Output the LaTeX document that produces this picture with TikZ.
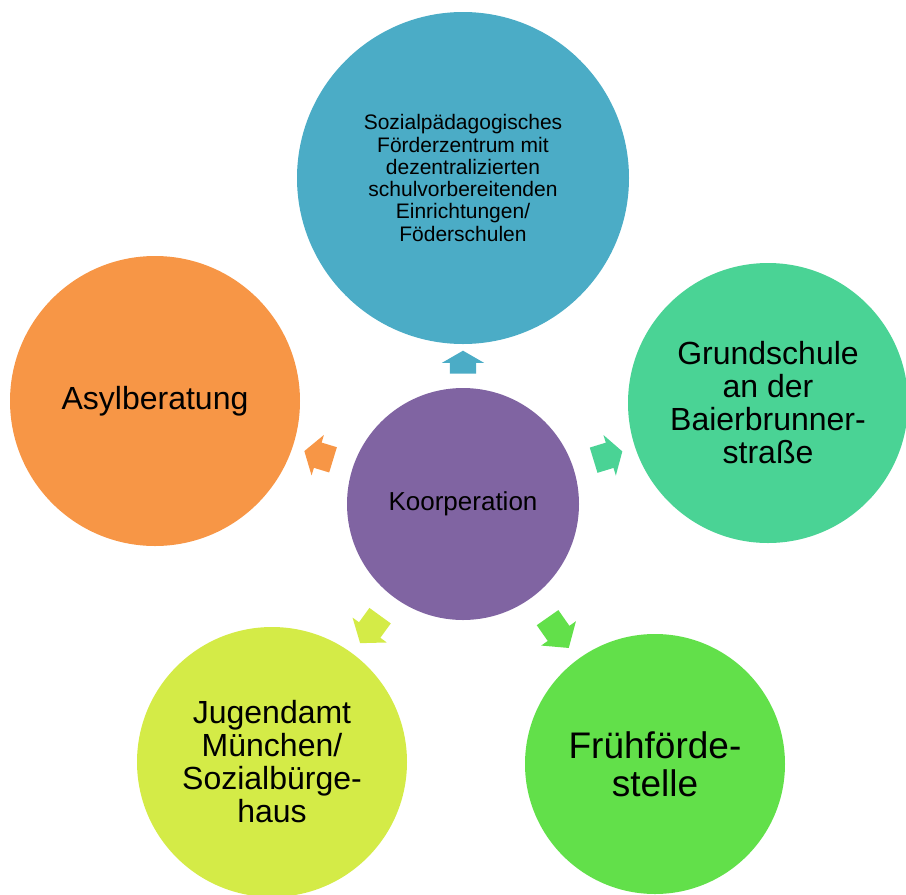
\documentclass[tikz,border=0pt]{standalone}
\usepackage{fontspec}
\setmainfont{Liberation Sans}
\usetikzlibrary{shapes.arrows,calc}
\definecolor{cTop}{HTML}{4BACC6}
\definecolor{cMid}{HTML}{8064A2}
\definecolor{cRight}{HTML}{4AD395}
\definecolor{cLeft}{HTML}{F79646}
\definecolor{cBL}{HTML}{D4EB47}
\definecolor{cBR}{HTML}{62E04A}
\begin{document}
\begin{tikzpicture}[x=1pt,y=-1pt,
  bubble/.style={circle, inner sep=0pt, align=center, text=black, draw=none},
  blockarrow/.style={single arrow, inner xsep=0pt, inner ysep=13pt,
    single arrow head extend=8pt, draw=none}]
\useasboundingbox (0,0) rectangle (906,895);
\clip (0,0) rectangle (906,895);
\node[bubble, fill=cTop, minimum size=332pt, font=\fontsize{21}{22.3}\selectfont] (t) at (463,178)
  {Sozialpädagogisches\\Förderzentrum mit\\dezentralizierten\\schulvorbereitenden\\Einrichtungen/\\Föderschulen};
\node[bubble, fill=cMid, minimum size=232pt, font=\fontsize{26}{28}\selectfont] (c) at (463,504) {Koorperation};
\node[bubble, fill=cRight, minimum size=280pt, font=\fontsize{32}{33}\selectfont] (r) at (768,403)
  {Grundschule\\an der\\Baierbrunner-\\straße};
\node[bubble, fill=cLeft, minimum size=290pt, font=\fontsize{32}{33}\selectfont] (l) at (155,401) {Asylberatung};
\node[bubble, fill=cBL, minimum size=270pt, font=\fontsize{32}{33}\selectfont] (bl) at (272,762)
  {Jugendamt\\München/\\Sozialbürge-\\haus};
\node[bubble, fill=cBR, minimum size=260pt, font=\fontsize{37}{38}\selectfont] (br) at (655,764)
  {Frühförde-\\stelle};
% block arrows
\node[blockarrow, fill=cTop, minimum height=23pt, single arrow tip angle=120, rotate=90] (at) at ($(c.90)!0.5!(t.270)$) {};
\node[blockarrow, fill=cRight, minimum height=30pt, single arrow tip angle=116, rotate=17] (ar) at ($(c.17)!0.5!(r.197)$) {};
\node[blockarrow, fill=cLeft, minimum height=30pt, single arrow tip angle=113, rotate=163] (al) at ($(c.163)!0.5!(l.-17)$) {};
\node[blockarrow, fill=cBL, minimum height=34pt, single arrow tip angle=105, rotate=-126] (abl) at ($(c.-126)!0.5!(bl.54)$) {};
\node[blockarrow, fill=cBR, minimum height=37pt, single arrow tip angle=100, rotate=-55] (abr) at ($(c.-55)!0.5!(br.125)$) {};
\end{tikzpicture}
\end{document}
